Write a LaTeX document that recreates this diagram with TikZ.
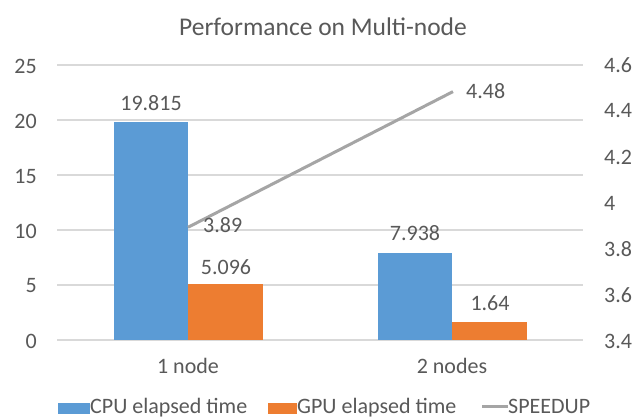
\documentclass[tikz,border=0pt]{standalone}
\usepackage{fontspec}
\setmainfont{Carlito}
\definecolor{cpucol}{HTML}{5B9BD5}
\definecolor{gpucol}{HTML}{ED7D31}
\definecolor{spdcol}{HTML}{A5A5A5}
\definecolor{txtcol}{HTML}{595959}
\definecolor{gridcol}{HTML}{D9D9D9}
\begin{document}
\begin{tikzpicture}[x=1pt,y=-1pt,
  gridline/.style={draw=gridcol,line width=1.2pt},
  lbl/.style={text=txtcol,font=\fontsize{22}{26}\selectfont,inner sep=0pt},
  titlelbl/.style={text=txtcol,font=\fontsize{25.5}{30}\selectfont,inner sep=0pt},
  cpubar/.style={fill=cpucol},
  gpubar/.style={fill=gpucol},
  spdline/.style={draw=spdcol,line width=3pt}]
\useasboundingbox (0,0) rectangle (633,418);
\fill[white] (0,0) rectangle (633,418);

% title
\node[titlelbl,anchor=base] (title) at (323,35) {Performance on Multi-node};

% horizontal grid and left axis (0..25, 11pt per unit, zero at y=340)
\foreach \v in {0,5,...,25}{
  \draw[gridline] (57,{340-11*\v}) -- (583,{340-11*\v});
  \node[lbl,anchor=east] (l\v) at (37,{341-11*\v}) {\v};
}

% right axis (3.4..4.6, 46pt per 0.2)
\foreach \i/\s in {0/3.4,1/3.6,2/3.8,3/4,4/4.2,5/4.4,6/4.6}{
  \node[lbl,anchor=west] (r\i) at (604,{341-46*\i}) {\s};
}

% bars
\fill[cpubar] (114,340) rectangle (188,{340-11*19.815});
\fill[gpubar] (188,340) rectangle (263,{340-11*5.096});
\fill[cpubar] (378,340) rectangle (452,{340-11*7.938});
\fill[gpubar] (452,340) rectangle (527,{340-11*1.64});

% bar value labels
\node[lbl] (v1) at (151,103) {19.815};
\node[lbl] (v2) at (226,267) {5.096};
\node[lbl] (v3) at (415,233) {7.938};
\node[lbl] (v4) at (490,303) {1.64};

% speedup line (right axis: 230pt per unit, 3.4 at y=340)
\coordinate (s1) at (188,{340-230*(3.89-3.4)});
\coordinate (s2) at (453,{340-230*(4.48-3.4)});
\draw[spdline] (s1) -- (s2);
\node[lbl,anchor=west] (sl1) at ([xshift=15pt,yshift=2pt]s1) {3.89};
\node[lbl,anchor=west] (sl2) at ([xshift=13pt,yshift=1pt]s2) {4.48};

% category labels
\node[lbl,anchor=base] (c1) at (188,373) {1 node};
\node[lbl,anchor=base] (c2) at (452,373) {2 nodes};

% legend
\fill[cpubar] (58,403) rectangle (90,414);
\node[lbl,anchor=base west] (lg1) at (90,413) {CPU elapsed time};
\fill[gpubar] (268,403) rectangle (297,414);
\node[lbl,anchor=base west] (lg2) at (297,413) {GPU elapsed time};
\coordinate (la) at (482,406);
\coordinate (lb) at (508,406);
\draw[spdline] (la) -- (lb);
\node[lbl,anchor=base west] (lg3) at (508,413) {SPEEDUP};
\end{tikzpicture}
\end{document}
